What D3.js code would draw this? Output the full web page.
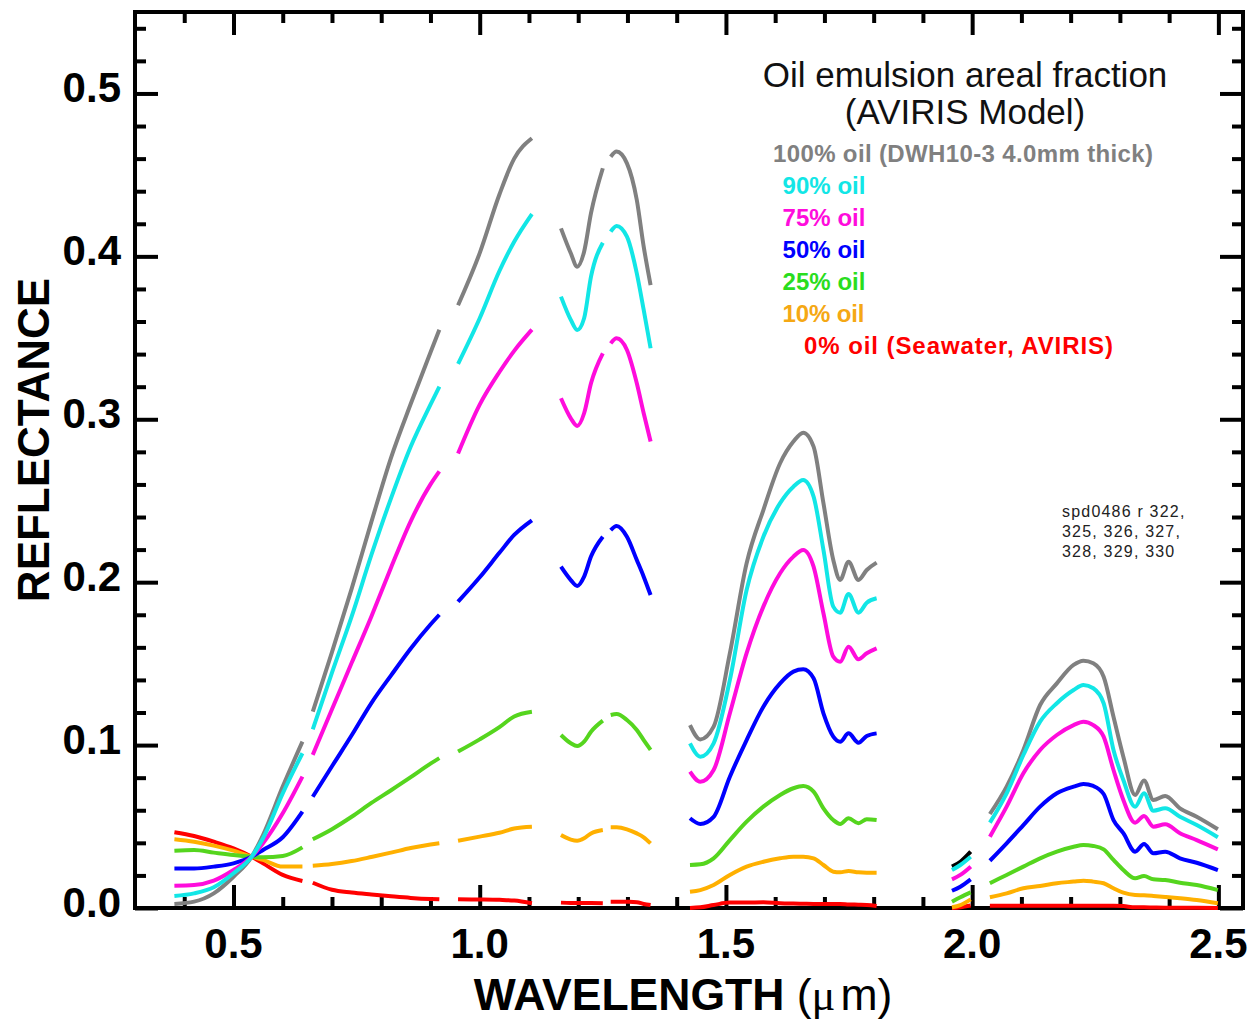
<!DOCTYPE html>
<html><head><meta charset="utf-8">
<script src="https://cdn.jsdelivr.net/npm/d3@7"></script>
<style>body{margin:0;background:#fff} svg{display:block}</style>
</head><body>
<svg id="chart" width="1260" height="1019"></svg>
<script>
// ---- wavelength segments (µm) ----
const wl1 = [0.38, 0.42, 0.46, 0.50, 0.537, 0.56, 0.60, 0.64];
const wl2 = [0.661, 0.70, 0.74, 0.78, 0.82, 0.86, 0.90, 0.918];
const wl3 = [0.956, 1.00, 1.04, 1.07, 1.106];
const wl4 = [1.165, 1.185, 1.198, 1.212, 1.226, 1.25];
const wl5 = [1.266, 1.278, 1.299, 1.319, 1.333, 1.347];
const wl6 = [1.427, 1.448, 1.475, 1.508, 1.542, 1.576, 1.610, 1.637, 1.657, 1.678, 1.698, 1.718, 1.732, 1.749, 1.769, 1.786, 1.806];
const wl7 = [1.959, 1.976, 1.997];
const wl8 = [2.036, 2.070, 2.104, 2.138, 2.172, 2.206, 2.226, 2.246, 2.267, 2.287, 2.307, 2.331, 2.349, 2.368, 2.392, 2.422, 2.456, 2.499];
const wavelengthSegments = [wl1, wl2, wl3, wl4, wl5, wl6, wl7, wl8];

// ---- reflectance per series, one array per segment ----
const oil100 = [
  [0.0025, 0.0039, 0.0090, 0.0192, 0.0315, 0.0448, 0.0745, 0.1021],
  [0.1205, 0.157, 0.196, 0.237, 0.2765, 0.3095, 0.341, 0.355],
  [0.370, 0.402, 0.438, 0.460, 0.4725],
  [0.4172, 0.4019, 0.3937, 0.4029, 0.4265, 0.4541],
  [0.4612, 0.4643, 0.4571, 0.4346, 0.406, 0.3824],
  [0.1123, 0.1035, 0.1113, 0.1564, 0.2116, 0.2443, 0.273, 0.2863, 0.2918, 0.2832, 0.2485, 0.2136, 0.2014, 0.2126, 0.2014, 0.2075, 0.212],
  [0.0254, 0.0284, 0.0346],
  [0.0577, 0.0745, 0.097, 0.1246, 0.1379, 0.1492, 0.1518, 0.1502, 0.142, 0.1174, 0.0929, 0.0694, 0.0782, 0.0663, 0.0688, 0.0612, 0.056, 0.0483]
];
const oil90 = [
  [0.0074, 0.0090, 0.0127, 0.0213, 0.0315, 0.0428, 0.0704, 0.0950],
  [0.1097, 0.1445, 0.179, 0.2167, 0.2516, 0.2833, 0.309, 0.320],
  [0.334, 0.362, 0.391, 0.409, 0.426],
  [0.3753, 0.361, 0.3548, 0.362, 0.3876, 0.4084],
  [0.4152, 0.4187, 0.4121, 0.3896, 0.3671, 0.3436],
  [0.1011, 0.0929, 0.1011, 0.14, 0.1952, 0.2279, 0.2485, 0.2586, 0.2627, 0.2525, 0.2198, 0.185, 0.1813, 0.1928, 0.1813, 0.1874, 0.1901],
  [0.0233, 0.0264, 0.0315],
  [0.0524, 0.0704, 0.0939, 0.1144, 0.1257, 0.1338, 0.1369, 0.1349, 0.1257, 0.097, 0.0786, 0.0622, 0.0704, 0.0597, 0.0612, 0.056, 0.0509, 0.0434]
];
const oil75 = [
  [0.0137, 0.0141, 0.0168, 0.0233, 0.0315, 0.0397, 0.0581, 0.0806],
  [0.094, 0.122, 0.1505, 0.179, 0.209, 0.2375, 0.260, 0.268],
  [0.279, 0.309, 0.329, 0.342, 0.355],
  [0.3129, 0.3006, 0.2959, 0.3037, 0.3221, 0.3405],
  [0.3466, 0.3497, 0.3425, 0.3221, 0.3037, 0.2863],
  [0.0837, 0.0775, 0.0847, 0.1195, 0.1564, 0.185, 0.2055, 0.2157, 0.2198, 0.2095, 0.1809, 0.1543, 0.1512, 0.1604, 0.1527, 0.1564, 0.1594],
  [0.0176, 0.0203, 0.0254],
  [0.0438, 0.0622, 0.0827, 0.097, 0.1062, 0.1123, 0.1144, 0.1123, 0.1052, 0.0847, 0.0663, 0.0524, 0.0565, 0.0499, 0.0514, 0.0459, 0.0417, 0.036]
];
const oil50 = [
  [0.0243, 0.0243, 0.0254, 0.0274, 0.0315, 0.0356, 0.0434, 0.0591],
  [0.0683, 0.087, 0.106, 0.1258, 0.1428, 0.1593, 0.174, 0.180],
  [0.188, 0.203, 0.218, 0.229, 0.238],
  [0.2095, 0.2013, 0.1977, 0.2034, 0.2157, 0.2279],
  [0.232, 0.2345, 0.2279, 0.2136, 0.2034, 0.1921],
  [0.0551, 0.0516, 0.056, 0.0806, 0.1031, 0.1236, 0.1379, 0.1451, 0.1465, 0.141, 0.1195, 0.1052, 0.1021, 0.1072, 0.1015, 0.1056, 0.1072],
  [0.0106, 0.0131, 0.0176],
  [0.029, 0.0397, 0.0509, 0.0622, 0.0704, 0.0745, 0.0761, 0.0749, 0.07, 0.054, 0.0459, 0.0346, 0.0393, 0.0336, 0.0346, 0.0305, 0.0278, 0.0233]
];
const oil25 = [
  [0.0352, 0.0356, 0.0340, 0.0325, 0.0315, 0.0311, 0.0319, 0.0372],
  [0.0422, 0.0484, 0.056, 0.0645, 0.0723, 0.0803, 0.0886, 0.092],
  [0.096, 0.1035, 0.111, 0.1176, 0.1205],
  [0.1062, 0.1011, 0.0994, 0.1021, 0.1082, 0.115],
  [0.1185, 0.1191, 0.1154, 0.1093, 0.1031, 0.097],
  [0.0264, 0.0268, 0.0305, 0.0417, 0.053, 0.0622, 0.0694, 0.0735, 0.0749, 0.0714, 0.0612, 0.054, 0.0516, 0.0551, 0.052, 0.0545, 0.054],
  [0.0039, 0.0066, 0.0096],
  [0.0152, 0.0203, 0.0254, 0.0305, 0.0346, 0.0376, 0.0387, 0.0381, 0.036, 0.0295, 0.0233, 0.0182, 0.0196, 0.0176, 0.0172, 0.0155, 0.0141, 0.011]
];
const oil10 = [
  [0.0422, 0.0407, 0.0383, 0.0352, 0.0315, 0.0295, 0.0254, 0.0254],
  [0.026, 0.027, 0.0288, 0.0313, 0.034, 0.0368, 0.039, 0.0398],
  [0.0413, 0.0438, 0.0462, 0.0488, 0.0499],
  [0.0448, 0.042, 0.0413, 0.0428, 0.0458, 0.0479],
  [0.0495, 0.0495, 0.0483, 0.0458, 0.0434, 0.0397],
  [0.010, 0.011, 0.0141, 0.0203, 0.0254, 0.0284, 0.0305, 0.0315, 0.0315, 0.0305, 0.0264, 0.0223, 0.0219, 0.0227, 0.0219, 0.0217, 0.0217],
  [0.0005, 0.0018, 0.0053],
  [0.0066, 0.009, 0.0121, 0.0135, 0.0152, 0.0162, 0.0168, 0.0162, 0.0152, 0.0121, 0.0094, 0.008, 0.0078, 0.0074, 0.0068, 0.006, 0.0049, 0.0029]
];
const oil0 = [
  [0.0465, 0.0442, 0.0407, 0.0366, 0.0315, 0.0274, 0.0203, 0.0166],
  [0.0155, 0.0112, 0.0095, 0.0083, 0.0072, 0.0062, 0.0055, 0.0053],
  [0.0053, 0.0052, 0.0050, 0.0046, 0.0029],
  [0.0033, 0.0031, 0.0031, 0.0030, 0.0030, 0.0029],
  [0.0039, 0.0039, 0.0038, 0.0036, 0.0025, 0.0018],
  [0.0, 0.0004, 0.0018, 0.0033, 0.0033, 0.0035, 0.0029, 0.0027, 0.0026, 0.0025, 0.0025, 0.0025, 0.0025, 0.0022, 0.0020, 0.0018, 0.0012],
  [0.0, 0.0005, 0.0015],
  [0.0014, 0.0014, 0.0014, 0.0014, 0.0014, 0.0014, 0.0014, 0.0014, 0.0014, 0.0014, 0.0012, 0.0004, 0.0004, 0.0003, 0.0002, 0.0002, 0.0001, 0.0]
];

const seriesLabels = ["100% oil (DWH10-3 4.0mm thick)", "90% oil", "75% oil", "50% oil", "25% oil", "10% oil", "0% oil (Seawater, AVIRIS)"];
const seriesValues = [oil100, oil90, oil75, oil50, oil25, oil10, oil0];
const legendTitle = ["Oil emulsion areal fraction", "(AVIRIS Model)"];
const xMajorTicks = [0.5, 1.0, 1.5, 2.0, 2.5];
const xTickLabels = ["0.5", "1.0", "1.5", "2.0", "2.5"];
const yMajorTicks = [0.0, 0.1, 0.2, 0.3, 0.4, 0.5];
const yTickLabels = ["0.0", "0.1", "0.2", "0.3", "0.4", "0.5"];
const annotationLines = ["spd0486 r 322,", "325, 326, 327,", "328, 329, 330"];

// ---- styles ----
const lineColors = ["#808080", "#12e6e6", "#ff0cdc", "#0000ff", "#55d51e", "#ffb000", "#ff0000"];
const textColors = ["#808080", "#12e6e6", "#ff0cdc", "#0000ff", "#2add1e", "#f5a814", "#ff0000"];
const FONT = "'Liberation Sans', Arial, Helvetica, sans-serif";

const svg = d3.select("#chart");
const L = 135, R = 1243, T = 12, B = 908;
const x = d3.scaleLinear().domain([0.3, 2.55]).range([L, R]);
const y = d3.scaleLinear().domain([0, 0.55]).range([B, T]);

const xMinor = d3.range(4, 26).map(i => i / 10).filter(v => !xMajorTicks.some(m => Math.abs(m - v) < 1e-6));
const yMinor = d3.range(0, 28).map(i => +(i * 0.02).toFixed(2)).filter(v => !yMajorTicks.some(m => Math.abs(m - v) < 1e-6));

function styleAxis(g) {
  g.select(".domain").remove();
  g.selectAll(".tick text").remove();
  g.selectAll(".tick line").attr("stroke", "#000").attr("stroke-width", 4);
}
const MAJ = 23, MIN = 11;
svg.append("g").attr("transform", `translate(0,${B})`).call(d3.axisBottom(x).tickValues(xMajorTicks).tickSize(-MAJ)).call(styleAxis);
svg.append("g").attr("transform", `translate(0,${B})`).call(d3.axisBottom(x).tickValues(xMinor).tickSize(-MIN)).call(styleAxis);
svg.append("g").attr("transform", `translate(0,${T})`).call(d3.axisTop(x).tickValues(xMajorTicks).tickSize(-MAJ)).call(styleAxis);
svg.append("g").attr("transform", `translate(0,${T})`).call(d3.axisTop(x).tickValues(xMinor).tickSize(-MIN)).call(styleAxis);
svg.append("g").attr("transform", `translate(${L},0)`).call(d3.axisLeft(y).tickValues(yMajorTicks).tickSize(-MAJ)).call(styleAxis);
svg.append("g").attr("transform", `translate(${L},0)`).call(d3.axisLeft(y).tickValues(yMinor).tickSize(-MIN)).call(styleAxis);
svg.append("g").attr("transform", `translate(${R},0)`).call(d3.axisRight(y).tickValues(yMajorTicks).tickSize(-MAJ)).call(styleAxis);
svg.append("g").attr("transform", `translate(${R},0)`).call(d3.axisRight(y).tickValues(yMinor).tickSize(-MIN)).call(styleAxis);

svg.append("rect").attr("x", L).attr("y", T).attr("width", R - L).attr("height", B - T)
  .attr("fill", "none").attr("stroke", "#000").attr("stroke-width", 4);

// tick labels
svg.append("g").selectAll("text").data(xMajorTicks).join("text")
  .attr("x", d => x(d)).attr("y", 958).attr("text-anchor", "middle")
  .attr("font-family", FONT).attr("font-weight", "bold").attr("font-size", 42)
  .text((d, i) => xTickLabels[i]);
svg.append("g").selectAll("text").data(yMajorTicks).join("text")
  .attr("x", 121).attr("y", d => y(d) + 9).attr("text-anchor", "end")
  .attr("font-family", FONT).attr("font-weight", "bold").attr("font-size", 42)
  .text((d, i) => yTickLabels[i]);

// axis titles
svg.append("text").attr("transform", "translate(49,440) rotate(-90)").attr("text-anchor", "middle")
  .attr("font-family", FONT).attr("font-weight", "bold").attr("font-size", 44).text("REFLECTANCE");
const xt = svg.append("text").attr("x", 683).attr("y", 1010).attr("text-anchor", "middle")
  .attr("font-family", FONT).attr("font-size", 44.5);
xt.append("tspan").attr("font-weight", "bold").text("WAVELENGTH ");
xt.append("tspan").attr("font-weight", "normal").text("(");
xt.append("tspan").attr("font-weight", "normal").attr("font-family", "'Liberation Serif', serif").text("\u03BC");
xt.append("tspan").attr("font-weight", "normal").attr("dx", 5).text("m)");

// data lines
const line = d3.line().x(d => x(d[0])).y(d => y(d[1])).curve(d3.curveMonotoneX);
const drawOrder = [0, 6, 5, 4, 3, 2, 1];
const gLines = svg.append("g");
drawOrder.forEach(si => {
  seriesValues[si].forEach((vals, k) => {
    const pts = wavelengthSegments[k].map((w, i) => [w, vals[i]]);
    gLines.append("path").datum(pts).attr("d", line)
      .attr("fill", "none")
      .attr("stroke", (si === 0 && k === 6) ? "#000000" : lineColors[si])
      .attr("stroke-width", 4).attr("stroke-linejoin", "round").attr("stroke-linecap", "butt");
  });
});

// legend
svg.append("g").selectAll("text").data(legendTitle).join("text")
  .attr("x", 965).attr("y", (d, i) => 87 + i * 37).attr("text-anchor", "middle")
  .attr("font-family", FONT).attr("font-size", 35).attr("fill", "#111").text(d => d);
const legendX = [773, 782.5, 782.5, 782.5, 782.5, 782.5, 804];
const legendW = [380, 83, 83, 83, 83, 82, 309];
svg.append("g").selectAll("text").data(seriesLabels).join("text")
  .attr("x", (d, i) => legendX[i]).attr("y", (d, i) => 161.5 + i * 32.1)
  .attr("font-family", FONT).attr("font-weight", "bold").attr("font-size", 24)
  .attr("textLength", (d, i) => legendW[i]).attr("lengthAdjust", "spacing")
  .attr("fill", (d, i) => textColors[i]).text(d => d);

// annotation
svg.append("g").selectAll("text").data(annotationLines).join("text")
  .attr("x", 1062).attr("y", (d, i) => 516.5 + i * 20.2)
  .attr("font-family", FONT).attr("font-size", 16).attr("letter-spacing", 1.2)
  .attr("fill", "#222").text(d => d);
</script>
</body></html>
